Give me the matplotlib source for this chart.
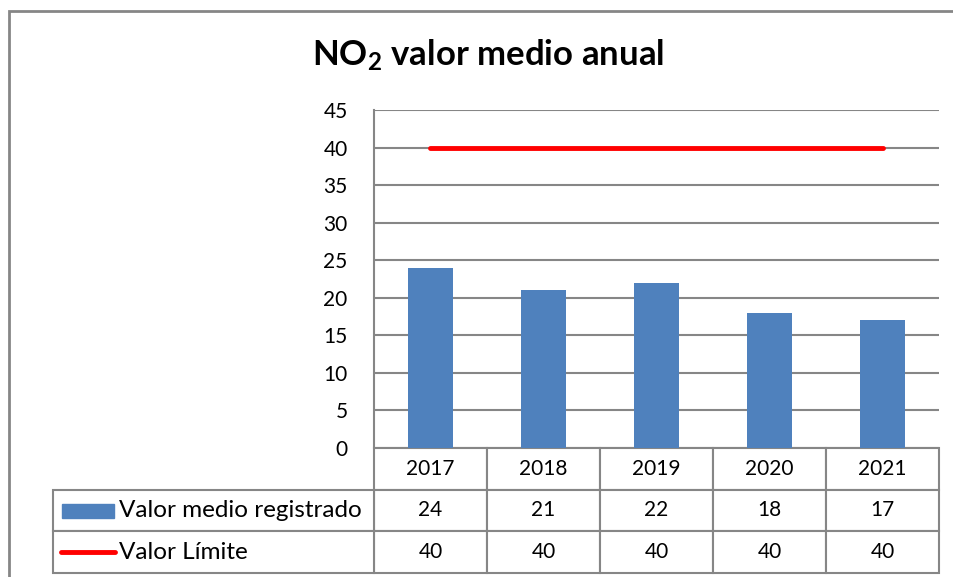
import numpy as np
import matplotlib
matplotlib.use('Agg')
import matplotlib.pyplot as plt
from matplotlib.patches import Rectangle
from matplotlib.lines import Line2D

#Chart data
years = ['2017', '2018', '2019', '2020', '2021']
valor_medio = [24, 21, 22, 18, 17]
valor_limite = [40, 40, 40, 40, 40]
series_names = ['Valor medio registrado', 'Valor Límite']
yticks = [0, 5, 10, 15, 20, 25, 30, 35, 40, 45]

bar_color = '#4F81BD'
line_color = '#FF0000'
grid_color = '#868686'

plt.rcParams['font.family'] = ['Lato', 'DejaVu Sans']
plt.rcParams['mathtext.fontset'] = 'custom'
plt.rcParams['mathtext.rm'] = 'Lato'
plt.rcParams['mathtext.bf'] = 'Lato:bold'

W, H = 954, 577
fig = plt.figure(figsize=(W / 100, H / 100), dpi=100)

#Plot area in pixel positions of the reference
left, right, top, bottom = 374, 939, 110, 448
axw = right - left
axh = bottom - top
ax = fig.add_axes([left / W, 1 - bottom / H, axw / W, axh / H])

x = np.arange(len(years))
ax.bar(x, valor_medio, width=0.4, color=bar_color, zorder=3)
ax.plot(x, valor_limite, color=line_color, linewidth=3.5, solid_capstyle='round', zorder=4)

ax.set_xlim(-0.5, len(years) - 0.5)
ax.set_ylim(0, 45)
ax.set_yticks(yticks)
ax.set_xticks([])
ax.tick_params(axis='y', length=0, labelsize=15, pad=19)
ax.yaxis.grid(True, color=grid_color, linewidth=1.5, zorder=0)
ax.set_axisbelow(True)
for s in ['top', 'right', 'bottom']:
    ax.spines[s].set_visible(False)
ax.spines['left'].set_color(grid_color)
ax.spines['left'].set_linewidth(1.5)

#Data table under the plot: year header + the two series
tab_top, tab_bottom, tab_left = 448, 573, 53
th = (tab_bottom - tab_top) / axh
cell_text = [years, [str(v) for v in valor_medio], [str(v) for v in valor_limite]]
tbl = ax.table(cellText=cell_text, cellLoc='center', bbox=[0, -th, 1, th])
tbl.auto_set_font_size(False)
tbl.set_fontsize(15)

#Row label cells (legend keys go inside)
lbl = ax.table(cellText=[[''], ['']], cellLoc='left',
               bbox=[(tab_left - left) / axw, -th, (left - tab_left) / axw, th * 2 / 3])
for t in (tbl, lbl):
    for key, cell in t.get_celld().items():
        cell.set_edgecolor(grid_color)
        cell.set_linewidth(1.5)

row_h = (tab_bottom - tab_top) / 3
for i, name in enumerate(series_names):
    yc = tab_top + row_h * (i + 1.5)
    ya = -(yc - bottom) / axh
    ax.text((119 - left) / axw, ya, name, transform=ax.transAxes,
            ha='left', va='center', fontsize=17.5)
    if i == 0:
        ax.add_patch(Rectangle(((62 - left) / axw, ya - 7 / axh),
                               52 / axw, 14 / axh,
                               transform=ax.transAxes, color=bar_color, clip_on=False))
    else:
        ax.add_line(Line2D([(61 - left) / axw, (115 - left) / axw],
                           [ya, ya], transform=ax.transAxes, color=line_color,
                           linewidth=3.5, solid_capstyle='round', clip_on=False))

#Title
fig.text(488 / W, 1 - 55 / H, r'$\mathbf{NO_2}$ valor medio anual', ha='center',
         va='center', fontsize=25, fontweight='bold')

#Outer chart frame (only top and left visible)
fig.patches.append(Rectangle((9 / W, -0.2), 1.5, 1.2 - 11 / H, transform=fig.transFigure,
                             fill=False, edgecolor=grid_color, linewidth=2))

fig.savefig('out.png', dpi=100)
